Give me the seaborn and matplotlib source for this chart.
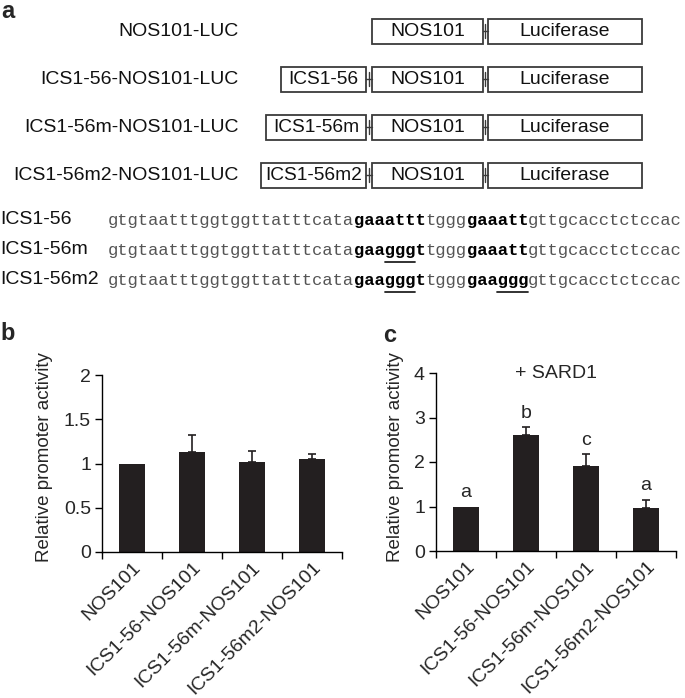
import matplotlib
matplotlib.use('Agg')
import matplotlib.pyplot as plt
import seaborn as sns
import pandas as pd
from matplotlib.patches import Rectangle

# ---------------- data ----------------
categories = ['NOS101', 'ICS1-56-NOS101', 'ICS1-56m-NOS101', 'ICS1-56m2-NOS101']
b_values = [1.0, 1.13, 1.02, 1.05]
b_errors = [0.0, 0.19, 0.12, 0.06]
c_values = [1.0, 2.61, 1.91, 0.97]
c_errors = [0.0, 0.17, 0.26, 0.18]
c_letters = ['a', 'b', 'c', 'a']
b_yticks = [0, 0.5, 1, 1.5, 2]
b_yticklabels = ['0', '0.5', '1', '1.5', '2']
c_yticks = [0, 1, 2, 3, 4]
c_yticklabels = ['0', '1', '2', '3', '4']
ylabel = 'Relative promoter activity'
c_title = '+ SARD1'

construct_names = ['NOS101-LUC', 'ICS1-56-NOS101-LUC', 'ICS1-56m-NOS101-LUC', 'ICS1-56m2-NOS101-LUC']
construct_elements = ['', 'ICS1-56', 'ICS1-56m', 'ICS1-56m2']
promoter_label = 'NOS101'
reporter_label = 'Luciferase'

seq_names = ['ICS1-56', 'ICS1-56m', 'ICS1-56m2']
seq_segments = [
    [('gtgtaatttggtggttatttcata', False), ('gaaattt', True), ('tggg', False), ('gaaatt', True), ('gttgcacctctccac', False)],
    [('gtgtaatttggtggttatttcata', False), ('gaagggt', True), ('tggg', False), ('gaaatt', True), ('gttgcacctctccac', False)],
    [('gtgtaatttggtggttatttcata', False), ('gaagggt', True), ('tggg', False), ('gaaggg', True), ('gttgcacctctccac', False)],
]
seq_underlines = [[], [(27, 30)], [(27, 30), (38, 41)]]

# ---------------- style ----------------
sns.set_theme(style='ticks')
plt.rcParams['font.family'] = ['Liberation Sans', 'DejaVu Sans']
plt.rcParams['axes.linewidth'] = 1.0
plt.rcParams['xtick.major.width'] = 1.0
plt.rcParams['ytick.major.width'] = 1.0

W, H = 685, 698
fig = plt.figure(figsize=(W / 100, H / 100), dpi=100)

# overlay axes in pixel coordinates for panel a and panel letters
ov = fig.add_axes([0, 0, 1, 1])
ov.set_xlim(0, W)
ov.set_ylim(H, 0)
ov.axis('off')

edge = '#3a3a3a'
row0, row_step = 31, 48
half_h = 12.5
ics_left = [None, 281, 266, 261]
ics_right = 366
nos_l, nos_r = 372, 483
luc_l, luc_r = 488, 642

def box(x0, x1, yc, label, fs):
    ov.add_patch(Rectangle((x0, yc - half_h), x1 - x0, 2 * half_h, fill=False, ec=edge, lw=1.3))
    ov.text((x0 + x1) / 2, yc + 0.5, label, ha='center', va='center', fontsize=fs, color='#111111')

def connector(xa, xb, yc):
    ov.plot([xa, xb], [yc, yc], color=edge, lw=1.0)
    xm = xa + (xb - xa) * 0.45
    ov.plot([xm, xm], [yc - 7, yc + 7], color=edge, lw=1.0)

for i, name in enumerate(construct_names):
    yc = row0 + i * row_step
    ov.text(239, yc + 1, name, ha='right', va='center', fontsize=14, color='#111111')
    if construct_elements[i]:
        box(ics_left[i], ics_right, yc, construct_elements[i], 13.8)
        connector(ics_right, nos_l, yc)
    box(nos_l, nos_r, yc, promoter_label, 14)
    connector(nos_r, luc_l, yc)
    box(luc_l, luc_r, yc, reporter_label, 14)

# sequences
seq_fs = 12.3
cw = 0.6 * seq_fs * 100 / 72
x0 = 108
seq_rows = [220, 250, 280]
for i, name in enumerate(seq_names):
    yc = seq_rows[i]
    ov.text(0, yc, name, ha='left', va='center', fontsize=14, color='#111111')
    pos = 0
    for seg, bold in seq_segments[i]:
        ov.text(x0 + pos * cw, yc, seg, ha='left', va='center', fontsize=seq_fs,
                family='Liberation Mono', fontweight='bold' if bold else 'normal',
                color='#000000' if bold else '#555555')
        pos += len(seg)
    for a, b in seq_underlines[i]:
        ov.plot([x0 + a * cw, x0 + b * cw], [yc + 12, yc + 12], color='#222222', lw=1.3)

# panel letters
ov.text(1, 0, 'a', ha='left', va='top', fontsize=17, fontweight='bold')
ov.text(0, 334, 'b', ha='left', va='center', fontsize=17, fontweight='bold')
ov.text(383, 335, 'c', ha='left', va='center', fontsize=17, fontweight='bold')

# ---------------- bar panels ----------------
bar_color = '#231f20'

def bar_panel(left_px, top_px, bottom_px, values, errors, yticks, yticklabels, ymax, label_x_px, label_yc_px):
    ax = fig.add_axes([left_px / W, (H - bottom_px) / H, 240 / W, (bottom_px - top_px) / H])
    df = pd.DataFrame({'construct': categories, 'value': values})
    sns.barplot(data=df, x='construct', y='value', color=bar_color, saturation=1,
                width=0.42, errorbar=None, ax=ax, linewidth=0)
    xs = list(range(len(categories)))
    ex = [x for x, e in zip(xs, errors) if e > 0]
    ev = [v for v, e in zip(values, errors) if e > 0]
    ee = [e for e in errors if e > 0]
    ax.errorbar(ex, ev, yerr=[[0] * len(ee), ee], fmt='none',
                ecolor=bar_color, elinewidth=1.2, capsize=2.6, capthick=1.2)
    ax.set_xlim(-0.5, len(categories) - 0.5)
    ax.set_ylim(0, ymax)
    ax.set_yticks(yticks)
    ax.set_yticklabels(yticklabels, fontsize=14)
    ax.set_xticks(xs)
    ax.set_xticklabels(categories, rotation=45, ha='right', va='top', rotation_mode='anchor', fontsize=14)
    ax.set_xticks([x - 0.5 for x in xs] + [len(categories) - 0.5], minor=True)
    ax.tick_params(axis='x', which='major', length=0, pad=5)
    ax.tick_params(axis='x', which='minor', length=5, width=1.0, direction='out', color='black')
    ax.tick_params(axis='y', length=5, width=1.0, direction='out', color='black', pad=3)
    for s in ['top', 'right']:
        ax.spines[s].set_visible(False)
    for s in ['left', 'bottom']:
        ax.spines[s].set_color('black')
    ax.set_xlabel('')
    ax.set_ylabel(ylabel, fontsize=13.5)
    ax.yaxis.set_label_coords((label_x_px - left_px) / 240, (bottom_px - label_yc_px) / (bottom_px - top_px))
    ax.set_facecolor('none')
    return ax

axb = bar_panel(102, 375, 552, b_values, b_errors, b_yticks, b_yticklabels, 2, 53, 457)
axc = bar_panel(436, 373, 551, c_values, c_errors, c_yticks, c_yticklabels, 4, 404, 457)

for x, (v, e, t) in enumerate(zip(c_values, c_errors, c_letters)):
    axc.text(x, v + e + 0.12, t, ha='center', va='bottom', fontsize=14)
axc.text(1.5, 4.0, c_title, ha='center', va='center', fontsize=14)

fig.savefig('out.png', dpi=100)
